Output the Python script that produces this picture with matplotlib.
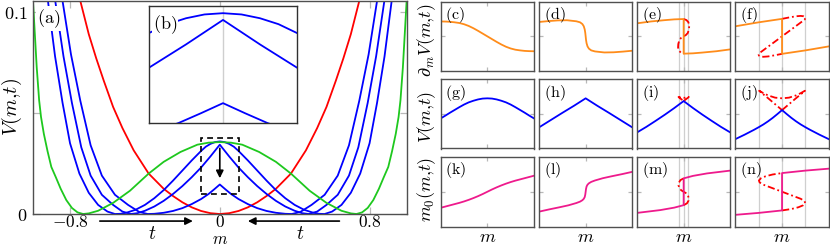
import numpy as np
import matplotlib
matplotlib.use("Agg")
import matplotlib.pyplot as plt
from matplotlib.patches import Rectangle

plt.rcParams["mathtext.fontset"] = "cm"
plt.rcParams["font.family"] = ["DejaVu Serif"]

# ---------------- data: panel (a), halves for m >= 0 (curves are even in m)
green_m = [0.00, 0.06, 0.12, 0.21, 0.30, 0.38, 0.48, 0.57, 0.65, 0.70, 0.73, 0.76, 0.79, 0.82,
           0.85, 0.875, 0.90, 0.92, 0.94, 0.955, 0.965, 0.978, 0.988, 0.998]
green_V = [0.0356, 0.0353, 0.0343, 0.0307, 0.0258, 0.0200, 0.0115, 0.0055, 0.0016, 0.0003, 0.0000,
           0.0008, 0.0030, 0.0069, 0.0125, 0.0180, 0.0233, 0.0310, 0.0397, 0.0480, 0.0562, 0.0726,
           0.0890, 0.1054]
red_m = [0.00, 0.05, 0.10, 0.15, 0.20, 0.25, 0.30, 0.38, 0.46, 0.52, 0.57, 0.62, 0.66, 0.70, 0.745]
red_V = [0.0000, 0.0004, 0.0015, 0.0033, 0.0058, 0.0089, 0.0125, 0.0200, 0.0315, 0.0425, 0.0530,
         0.0660, 0.0770, 0.0890, 0.1054]
blue1_m = [0.00, 0.025, 0.05, 0.075, 0.10, 0.15, 0.20, 0.25, 0.30, 0.35, 0.40, 0.45, 0.50, 0.53,
           0.56, 0.60, 0.65, 0.70, 0.75, 0.80, 0.84, 0.88, 0.918]
blue1_V = [0.0359, 0.0356, 0.0347, 0.0333, 0.0312, 0.0265, 0.0215, 0.0165, 0.0118, 0.0078, 0.0045,
           0.0021, 0.0006, 0.0001, 0.0000, 0.0012, 0.0045, 0.0105, 0.0200, 0.0350, 0.0550, 0.0780,
           0.1054]
blue2_m = [0.00, 0.05, 0.10, 0.15, 0.20, 0.25, 0.30, 0.35, 0.40, 0.44, 0.475, 0.52, 0.57, 0.63,
           0.69, 0.74, 0.79, 0.835, 0.879]
blue2_V = [0.0343, 0.0285, 0.0230, 0.0182, 0.0138, 0.0099, 0.0065, 0.0037, 0.0016, 0.0004, 0.0000,
           0.0012, 0.0045, 0.0095, 0.0190, 0.0330, 0.0550, 0.0780, 0.1054]
blue3_m = [0.00, 0.03, 0.06, 0.10, 0.15, 0.20, 0.25, 0.30, 0.35, 0.385, 0.43, 0.49, 0.56, 0.63,
           0.69, 0.745, 0.795, 0.84]
blue3_V = [0.0146, 0.0122, 0.0099, 0.0074, 0.0049, 0.0029, 0.0015, 0.0006, 0.0001, 0.0000, 0.0010,
           0.0045, 0.0095, 0.0190, 0.0340, 0.0560, 0.0790, 0.1054]

main_xticks = [-0.8, 0.0, 0.8]
main_xticklabels = [r"$-0.8$", r"$0$", r"$0.8$"]
main_yticks = [0.0, 0.05, 0.1]
main_yticklabels = [r"$0$", "", r"$0.1$"]
main_xlim = (-1.0, 1.0)
main_ylim = (0.0, 0.1054)
inset_xlim = (-0.1, 0.1)
inset_ylim = (0.0099, 0.0376)

# ---------------- data: small panels (x in [-1, 1], arbitrary y units)
c_x = [0, 0.1, 0.2, 0.3, 0.4, 0.5, 0.6, 0.7, 0.8, 0.9, 1.0]           # odd
c_y = [0, -0.08, -0.16, -0.235, -0.30, -0.35, -0.385, -0.405, -0.42, -0.427, -0.43]
d_x = [0, 0.008, 0.02, 0.04, 0.07, 0.12, 0.2, 0.4, 0.6, 0.8, 1.0]     # odd
d_y = [0, -0.10, -0.20, -0.29, -0.355, -0.405, -0.435, -0.465, -0.46, -0.44, -0.415]
e_up_x = [-1, -0.7, -0.4, -0.2, 0]                                   # branch, point-symmetric
e_up_y = [0.376, 0.43, 0.468, 0.49, 0.50]
e_S_x = [0, 0.06, 0.10, 0.12, 0.115, 0.09, 0.05, 0]
e_S_y = [0.50, 0.47, 0.41, 0.32, 0.22, 0.10, 0.04, 0]
f_up_x = [-1, -0.5, 0]
f_up_y = [0.29, 0.405, 0.505]
f_S_x = [0, 0.15, 0.30, 0.40, 0.46, 0.495, 0.50, 0.48, 0.42, 0.20, 0]
f_S_y = [0.505, 0.545, 0.58, 0.59, 0.58, 0.555, 0.525, 0.48, 0.42, 0.20, 0]
g_x = [0, 0.1, 0.2, 0.3, 0.4, 0.5, 0.6, 0.7, 0.8, 0.9, 1.0]           # even
g_y = [0.45, 0.443, 0.418, 0.38, 0.333, 0.27, 0.195, 0.115, 0.035, -0.05, -0.13]
h_x = [0, 0.25, 0.5, 0.75, 1.0]
h_y = [0.45, 0.235, 0.03, -0.18, -0.39]
i_x = [0, 0.2, 0.4, 0.6, 0.8, 1.0]
i_y = [0.371, 0.17, -0.02, -0.2, -0.375, -0.536]
i_T_x = [0, 0.05, 0.10, 0.11, 0.06, 0]
i_T_y = [0.371, 0.425, 0.475, 0.49, 0.47, 0.465]
j_x = [0, 0.1, 0.2, 0.3, 0.4, 0.5, 0.6, 0.7, 0.8, 0.9, 1.0]
j_y = [0.11, -0.005, -0.115, -0.215, -0.305, -0.385, -0.46, -0.53, -0.6, -0.665, -0.73]
j_T_x = [0, 0.1, 0.2, 0.3, 0.4, 0.49, 0.4, 0.3, 0.15, 0]
j_T_y = [0.11, 0.225, 0.34, 0.455, 0.565, 0.67, 0.6, 0.535, 0.47, 0.45]
k_x = [0, 0.1, 0.2, 0.3, 0.4, 0.5, 0.6, 0.7, 0.8, 0.9, 1.0]           # odd
k_y = [0, 0.065, 0.125, 0.18, 0.23, 0.275, 0.315, 0.35, 0.385, 0.42, 0.455]
l_x = [0, 0.008, 0.02, 0.04, 0.07, 0.12, 0.2, 0.37, 0.56, 0.78, 1.0]
l_y = [0, 0.08, 0.15, 0.20, 0.24, 0.28, 0.32, 0.385, 0.44, 0.50, 0.565]
m_lo_x = [-1, -0.5, -0.2, 0]
m_lo_y = [-0.60, -0.52, -0.45, -0.38]
m_S_x = [0, 0.07, 0.105, 0.11, 0.09, 0.05, 0]
m_S_y = [-0.38, -0.33, -0.25, -0.18, -0.10, -0.04, 0]
n_lo_x = [-1, -0.5, 0]
n_lo_y = [-0.655, -0.60, -0.53]
n_S_x = [0, 0.2, 0.35, 0.45, 0.495, 0.48, 0.40, 0.20, 0]
n_S_y = [-0.53, -0.49, -0.44, -0.385, -0.32, -0.265, -0.20, -0.10, 0]
spin_small = 0.10
spin_large = 0.49

# ---------------- helpers
def even(x, y):
    x = np.asarray(x, float); y = np.asarray(y, float)
    return np.r_[-x[::-1], x[1:]], np.r_[y[::-1], y[1:]]

def odd(x, y):
    x = np.asarray(x, float); y = np.asarray(y, float)
    return np.r_[-x[::-1], x[1:]], np.r_[-y[::-1], y[1:]]

def branch(x, y):
    x = np.asarray(x, float); y = np.asarray(y, float)
    return np.r_[x, -x[::-1]], np.r_[y, -y[::-1]]

def scurve(x, y):
    x = np.asarray(x, float); y = np.asarray(y, float)
    return np.r_[x, -x[::-1][1:]], np.r_[y, -y[::-1][1:]]

def tail(x, y):
    x = np.asarray(x, float); y = np.asarray(y, float)
    return np.r_[x, -x[::-1][1:]], np.r_[y, y[::-1][1:]]

W, H = 830, 247
fig = plt.figure(figsize=(W / 100, H / 100), dpi=100)

def px_axes(l, t, r, b):
    return fig.add_axes([l / W, 1 - b / H, (r - l) / W, (b - t) / H])

BLUE = "#0000ff"; GREEN = "#1ec81e"; RED = "#ff0000"
ORANGE = "#ff8c1a"; PINK = "#ee1a8c"
SPINE = "#505050"; TICK = "#b8b8b8"; GRID = "#cfcfcf"
DASHDOT = (0, (4.0, 1.6, 1.0, 1.6))
LW = 1.3
LABEL_BOX = dict(facecolor="white", edgecolor="none", pad=0.6)

# ---------------- panel (a)
ax = px_axes(32.6, 1, 407, 214)
ax.plot(*even(red_m, red_V), color=RED, lw=LW)
ax.plot(*even(blue3_m, blue3_V), color=BLUE, lw=LW)
ax.plot(*even(blue2_m, blue2_V), color=BLUE, lw=LW)
ax.plot(*even(blue1_m, blue1_V), color=BLUE, lw=LW)
ax.plot(*even(green_m, green_V), color=GREEN, lw=LW)
ax.set_xlim(*main_xlim); ax.set_ylim(*main_ylim)
ax.set_xticks(main_xticks); ax.set_xticklabels(main_xticklabels, fontsize=12.5)
ax.set_yticks(main_yticks); ax.set_yticklabels(main_yticklabels, fontsize=13)
ax.tick_params(direction="in", length=5, width=0.9, color=TICK, top=True, right=True, pad=4)
ax.tick_params(axis="x", pad=0)
for s in ax.spines.values():
    s.set_color(SPINE); s.set_linewidth(1.0)
ax.text(0.012, 0.972, r"$\mathrm{(a)}$", transform=ax.transAxes, fontsize=13, va="top",
        ha="left", bbox=LABEL_BOX, zorder=4)
ax.add_patch(Rectangle((inset_xlim[0], inset_ylim[0]), inset_xlim[1] - inset_xlim[0],
                       inset_ylim[1] - inset_ylim[0], fill=False, ec="k", lw=1.2,
                       ls=(0, (3.5, 2.5)), zorder=5))
ax.annotate("", xy=(0, 0.0177), xytext=(0, 0.0325),
            arrowprops=dict(arrowstyle="-|>", color="k", lw=1.2, mutation_scale=11,
                            shrinkA=0, shrinkB=0), zorder=6)
for x0, x1, xt in [(-0.641, -0.144, -0.363), (0.639, 0.15, 0.427)]:
    ax.annotate("", xy=(x1, -0.0035), xytext=(x0, -0.0035), annotation_clip=False,
                arrowprops=dict(arrowstyle="-|>", color="k", lw=1.2, mutation_scale=11,
                                shrinkA=0, shrinkB=0))
    ax.text(xt, -0.0100, r"$t$", fontsize=14, ha="center", va="center", clip_on=False)
fig.text(220 / W, 1 - 244.0 / H, r"$m$", fontsize=12, ha="center", va="baseline")
fig.text(12 / W, 1 - 107 / H, r"$V(m{,}t)$", fontsize=14.5, ha="center", va="center", rotation=90)

# ---------------- inset (b)
axb = px_axes(149, 6, 297, 123)
axb.axvline(0, color=GRID, lw=1.0, zorder=0)
axb.plot(*even(blue3_m, blue3_V), color=BLUE, lw=LW)
axb.plot(*even(blue2_m, blue2_V), color=BLUE, lw=LW)
axb.plot(*even(blue1_m, blue1_V), color=BLUE, lw=LW)
axb.set_xlim(*inset_xlim); axb.set_ylim(*inset_ylim)
axb.set_xticks([]); axb.set_yticks([])
for s in axb.spines.values():
    s.set_color("#303030"); s.set_linewidth(1.0)
axb.text(0.025, 0.935, r"$\mathrm{(b)}$", transform=axb.transAxes, fontsize=13, va="top",
         ha="left", bbox=LABEL_BOX, zorder=4)

# ---------------- small panels
cols = [(440.7, 534.0), (539.0, 632.3), (637.0, 730.3), (735.3, 828.8)]
rows = [(1.7, 71.0), (79.3, 148.5), (156.5, 227.0)]
labels = [["c", "d", "e", "f"], ["g", "h", "i", "j"], ["k", "l", "m", "n"]]
axs = {}
for r, (t, b) in enumerate(rows):
    for c, (l, rr) in enumerate(cols):
        a = px_axes(l, t, rr, b)
        a.set_xlim(-1, 1); a.set_ylim(-1, 1)
        a.set_xticks([0]); a.set_yticks([0])
        a.set_xticklabels([]); a.set_yticklabels([])
        a.tick_params(direction="in", length=3.2, width=0.9, color=TICK, top=True, right=True)
        for s in a.spines.values():
            s.set_color(SPINE); s.set_linewidth(1.0)
        a.text(0.05, 0.95, r"$\mathrm{(%s)}$" % labels[r][c], transform=a.transAxes,
               fontsize=11.5, va="top", ha="left", zorder=4)
        axs[labels[r][c]] = a

for key, sp in [("e", spin_small), ("i", spin_small), ("m", spin_small),
                ("f", spin_large), ("j", spin_large), ("n", spin_large)]:
    for xv in (-sp, 0.0, sp):
        axs[key].axvline(xv, color=GRID, lw=0.9, zorder=0)

axs["c"].plot(*odd(c_x, c_y), color=ORANGE, lw=LW)
axs["d"].plot(*odd(d_x, d_y), color=ORANGE, lw=LW)
axs["e"].plot(*scurve(e_S_x, e_S_y), color=RED, lw=LW, ls=DASHDOT)
axs["e"].plot(*branch(e_up_x, e_up_y), color=ORANGE, lw=LW)
axs["f"].plot(*scurve(f_S_x, f_S_y), color=RED, lw=LW, ls=DASHDOT)
axs["f"].plot(*branch(f_up_x, f_up_y), color=ORANGE, lw=LW)

axs["g"].plot(*even(g_x, g_y), color=BLUE, lw=LW)
axs["h"].plot(*even(h_x, h_y), color=BLUE, lw=LW)
axs["i"].plot(*tail(i_T_x, i_T_y), color=RED, lw=LW, ls=DASHDOT)
axs["i"].plot(*even(i_x, i_y), color=BLUE, lw=LW)
axs["j"].plot(*tail(j_T_x, j_T_y), color=RED, lw=LW, ls=DASHDOT)
axs["j"].plot(*even(j_x, j_y), color=BLUE, lw=LW)

axs["k"].plot(*odd(k_x, k_y), color=PINK, lw=LW)
axs["l"].plot(*odd(l_x, l_y), color=PINK, lw=LW)
axs["m"].plot(*scurve(m_S_x, m_S_y), color=RED, lw=LW, ls=DASHDOT)
axs["m"].plot(*branch(m_lo_x, m_lo_y), color=PINK, lw=LW)
axs["n"].plot(*scurve(n_S_x, n_S_y), color=RED, lw=LW, ls=DASHDOT)
axs["n"].plot(*branch(n_lo_x, n_lo_y), color=PINK, lw=LW)

ylabs = [(r"$\partial_m V(m{,}t)$", 40), (r"$V(m{,}t)$", 117), (r"$m_0(m{,}t)$", 190)]
for txt, yc in ylabs:
    fig.text(427 / W, 1 - yc / H, txt, fontsize=13, ha="center", va="center", rotation=90)
for l, rr in cols:
    fig.text((l + rr) / 2 / W, 1 - 237 / H, r"$m$", fontsize=13, ha="center", va="center")

fig.savefig("out.png", dpi=100)
